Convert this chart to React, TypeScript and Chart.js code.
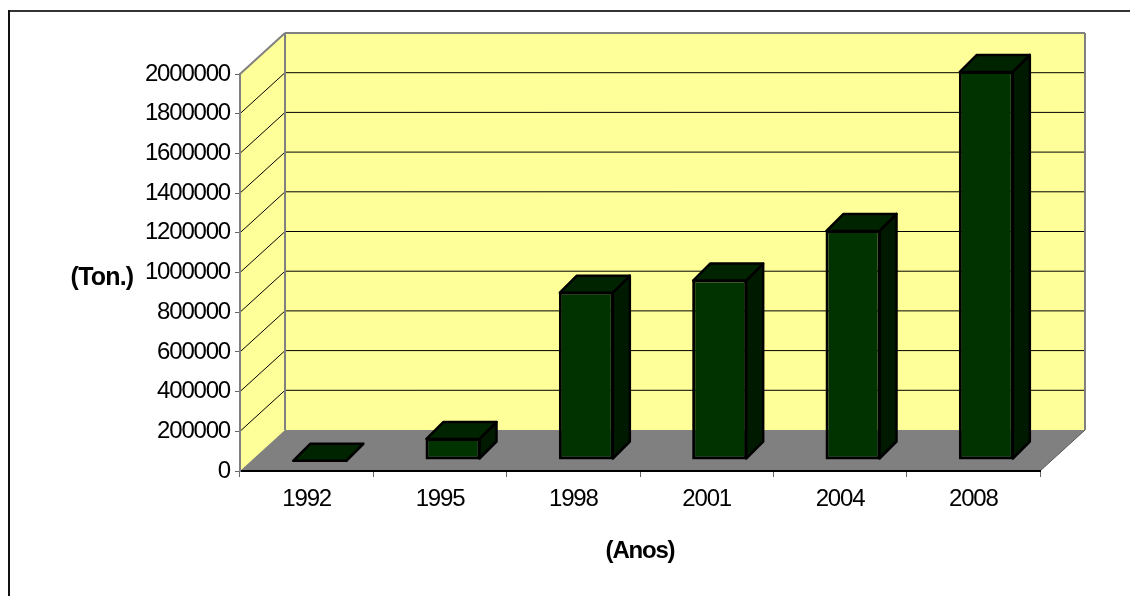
import React, { useEffect, useRef } from "react";
import { Chart, registerables } from "chart.js";

Chart.register(...registerables);

const categories = ["1992", "1995", "1998", "2001", "2004", "2008"];
const tonnes = [1000, 111000, 848000, 909000, 1159000, 1960000];
const yTitle = "(Ton.)";
const xTitle = "(Anos)";
const FONT = "'Liberation Sans', Arial, sans-serif";

const wallDepth = { x: 45, y: -41 };
const barShift = { x: 13, y: -11 };
const barDepth = { x: 17, y: -17 };

function poly(ctx: CanvasRenderingContext2D, pts: number[][], fill?: string, stroke?: string, lw = 1) {
  ctx.beginPath();
  pts.forEach((p, i) => (i ? ctx.lineTo(p[0], p[1]) : ctx.moveTo(p[0], p[1])));
  ctx.closePath();
  if (fill) { ctx.fillStyle = fill; ctx.fill(); }
  if (stroke) { ctx.strokeStyle = stroke; ctx.lineWidth = lw; ctx.lineJoin = "round"; ctx.stroke(); }
}

function line(ctx: CanvasRenderingContext2D, x1: number, y1: number, x2: number, y2: number, c: string, lw: number) {
  ctx.beginPath();
  ctx.moveTo(x1, y1);
  ctx.lineTo(x2, y2);
  ctx.strokeStyle = c;
  ctx.lineWidth = lw;
  ctx.stroke();
}

const scene3d = {
  id: "scene3d",
  beforeDraw(chart: any) {
    const { ctx, chartArea: a, scales } = chart;
    const dx = wallDepth.x, dy = wallDepth.y;
    ctx.save();
    line(ctx, 8, 11, 1130, 11, "#333333", 2);
    line(ctx, 9, 10, 9, 596, "#111111", 2);
    poly(ctx, [[a.left, a.top], [a.left + dx, a.top + dy], [a.right + dx, a.top + dy], [a.right + dx, a.bottom + dy], [a.left, a.bottom]], "#FFFF99");
    poly(ctx, [[a.left, a.bottom], [a.left + dx, a.bottom + dy], [a.right + dx, a.bottom + dy], [a.right, a.bottom]], "#808080");
    scales.y.ticks.forEach((t: any) => {
      const y = scales.y.getPixelForValue(t.value);
      if (t.value > 0 && t.value < scales.y.max) {
        line(ctx, a.left, y, a.left + dx, y + dy, "#000000", 1);
        line(ctx, a.left + dx, y + dy, a.right + dx, y + dy, "#000000", 1);
      }
    });
    line(ctx, a.left + dx, a.top + dy, a.left + dx, a.bottom + dy, "#808080", 2);
    line(ctx, a.left + dx, a.top + dy, a.right + dx, a.top + dy, "#808080", 2);
    line(ctx, a.right + dx, a.top + dy, a.right + dx, a.bottom + dy, "#808080", 2);
    line(ctx, a.left, a.top, a.left + dx, a.top + dy, "#808080", 2);
    line(ctx, a.right, a.bottom, a.right + dx, a.bottom + dy, "#555555", 1);
    ctx.fillStyle = "#000";
    ctx.font = `bold 25px ${FONT}`;
    ctx.textAlign = "center";
    ctx.textBaseline = "middle";
    (ctx as any).letterSpacing = "-0.8px";
    ctx.fillText(yTitle, 102, 278);
    ctx.restore();
    // the reference's text is slightly condensed
    (ctx as any).letterSpacing = "-1.2px";
  },
  beforeDatasetDraw(chart: any, args: any) {
    const { ctx } = chart;
    ctx.save();
    ctx.translate(barShift.x, barShift.y);
    args.meta.data.forEach((el: any) => {
      const l = el.x - el.width / 2 + 1, r = el.x + el.width / 2 - 1;
      const t = el.y + 1, b = Math.max(t, el.base - 1);
      const dx = barDepth.x, dy = barDepth.y;
      poly(ctx, [[r, t], [r + dx, t + dy], [r + dx, b + dy], [r, b]], "#001A00", "#000000", 2.5);
      poly(ctx, [[l, t], [l + dx, t + dy], [r + dx, t + dy], [r, t]], "#002400", "#000000", 2.5);
    });
  },
  afterDatasetDraw(chart: any) {
    chart.ctx.restore();
  },
};

export default function App() {
  const ref = useRef<HTMLCanvasElement>(null);
  useEffect(() => {
    const chart = new Chart(ref.current!, {
      type: "bar",
      data: {
        labels: categories,
        datasets: [{
          label: "Ton.",
          data: tonnes,
          backgroundColor: "#003300",
          borderColor: "#000000",
          borderWidth: 3,
          borderSkipped: false,
          barPercentage: 0.4125,
          categoryPercentage: 1,
          clip: false,
        } as any],
      },
      plugins: [scene3d as any],
      options: {
        responsive: false,
        animation: false,
        layout: { padding: { left: 0, right: 90, top: 74, bottom: 0 } },
        plugins: { legend: { display: false }, title: { display: false }, tooltip: { enabled: false } },
        scales: {
          x: {
            grid: { drawOnChartArea: false, drawTicks: true, tickLength: 6, tickColor: "#666666" },
            border: { color: "#000000", width: 2 },
            ticks: { color: "#000", font: { family: FONT, size: 24 }, padding: 8, autoSkip: false, maxRotation: 0 },
            title: { display: true, text: xTitle, color: "#000", font: { family: FONT, size: 24, weight: "bold" }, padding: { top: 0, bottom: 30 } },
            afterFit(s: any) { s.height = 125; },
          },
          y: {
            min: 0,
            max: 2000000,
            grid: { drawOnChartArea: false, drawTicks: true, tickLength: 5, tickColor: "#666666" },
            border: { color: "#808080", width: 2 },
            ticks: { stepSize: 200000, color: "#000", font: { family: FONT, size: 24 }, padding: 5, autoSkip: false, callback: (v: any) => String(v) },
            afterFit(s: any) { s.width = 240; },
          },
        },
      },
    } as any);
    return () => chart.destroy();
  }, []);
  return (
    <canvas
      ref={ref}
      width={1130}
      height={596}
      style={{ position: "fixed", left: 0, top: 0, width: 1130, height: 596, display: "block" }}
    />
  );
}
